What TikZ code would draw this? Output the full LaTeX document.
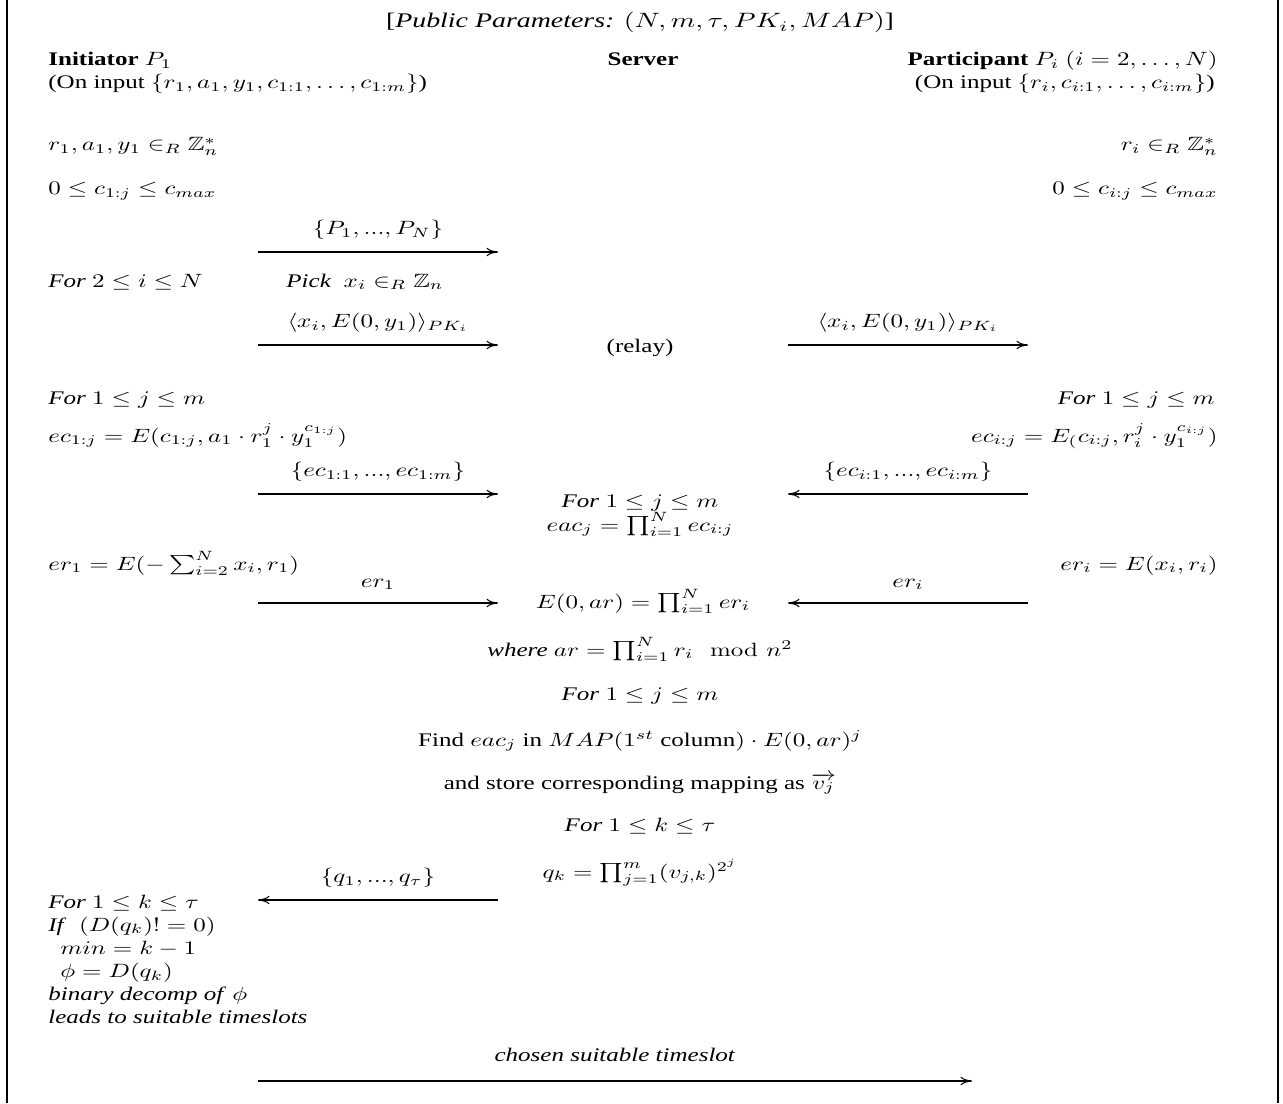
\documentclass[tikz,border=0pt]{standalone}
\usepackage{amsmath,amssymb,graphicx}
\usepackage[no-math]{fontspec}
\setmainfont{Liberation Serif}
\usetikzlibrary{arrows.meta, positioning}

% the printed text is wider than it is tall
\newcommand{\wide}[1]{\scalebox{1.3}[1]{#1}}

\begin{document}
\begin{tikzpicture}[
  x=0.52pt, y=-0.52pt,
  txt/.style ={inner sep=0pt, anchor=base},
  lft/.style ={inner sep=0pt, anchor=base west},
  rgt/.style ={inner sep=0pt, anchor=base east},
  arr/.style ={-{To[length=6pt, width=4.5pt]}, line width=0.55pt},
  lbl/.style ={above=6.5pt, inner sep=0pt},
]
\useasboundingbox (0,0) rectangle (1283,1103);
\draw[line width=0.75pt] (7,0) -- (7,1103);
\draw[line width=0.75pt] (1278,0) -- (1278,1103);

% header
\node[txt] (title)  at (640,28)   {\scalebox{1.45}[1.08]{[\textit{Public Parameters:} $(N,m,\tau,PK_i,MAP)$]}};
\node[lft] (init)   at (48,66)    {\wide{\textbf{Initiator} $P_1$}};
\node[txt] (srv)    at (643,66)   {\wide{\textbf{Server}}};
\node[rgt] (part)   at (1218,66)  {\wide{\textbf{Participant} $P_i$ $(i=2,\ldots,N)$}};
\node[lft] (initin) at (48,89)    {\wide{(On input $\{r_1,a_1,y_1,c_{1:1},\ldots,c_{1:m}\}$)}};
\node[rgt] (partin) at (1215,89)  {\wide{(On input $\{r_i,c_{i:1},\ldots,c_{i:m}\}$)}};
\node[lft] (initr)  at (48,151)   {\wide{$r_1,a_1,y_1\in_R\mathbb{Z}_n^*$}};
\node[rgt] (partr)  at (1218,151) {\wide{$r_i\in_R\mathbb{Z}_n^*$}};
\node[lft] (initc)  at (48,195)   {\wide{$0\le c_{1:j}\le c_{max}$}};
\node[rgt] (partc)  at (1218,195) {\wide{$0\le c_{i:j}\le c_{max}$}};

% group and masks
\coordinate (m1s) at (258,252); \coordinate (m1e) at (498,252);
\draw[arr] (m1s) -- node[lbl] {\wide{$\{P_1,...,P_N\}$}} (m1e);
\node[lft] (initfor) at (48,287)  {\wide{\textit{For} $2\le i\le N$}};
\node[txt] (pick)    at (365,287) {\wide{\textit{Pick} ~$x_i\in_R\mathbb{Z}_n$}};
\coordinate (m2s) at (258,345); \coordinate (m2e) at (498,345);
\draw[arr] (m2s) -- node[lbl] {\wide{$\langle x_i,E(0,y_1)\rangle_{PK_i}$}} (m2e);
\node[txt] (relay) at (640,352) {\wide{(relay)}};
\coordinate (m3s) at (788,345); \coordinate (m3e) at (1028,345);
\draw[arr] (m3s) -- node[lbl] {\wide{$\langle x_i,E(0,y_1)\rangle_{PK_i}$}} (m3e);

% encrypted choices
\node[lft] (initforj) at (48,404)   {\wide{\textit{For} $1\le j\le m$}};
\node[rgt] (partforj) at (1215,404) {\wide{\textit{For} $1\le j\le m$}};
\node[lft] (initec)   at (48,442)   {\wide{$ec_{1:j}=E(c_{1:j},a_1\cdot r_1^j\cdot y_1^{c_{1:j}})$}};
\node[rgt] (partec)   at (1218,442) {\wide{$ec_{i:j}=E_(c_{i:j},r_i^j\cdot y_1^{c_{i:j}})$}};
\coordinate (m4s) at (258,494); \coordinate (m4e) at (498,494);
\draw[arr] (m4s) -- node[lbl] {\wide{$\{ec_{1:1},...,ec_{1:m}\}$}} (m4e);
\coordinate (m5s) at (1028,494); \coordinate (m5e) at (788,494);
\draw[arr] (m5s) -- node[lbl] {\wide{$\{ec_{i:1},...,ec_{i:m}\}$}} (m5e);
\node[txt] (srvfor) at (640,507) {\wide{\textit{For} $1\le j\le m$}};
\node[txt] (srveac) at (640,531) {\wide{$eac_j=\prod_{i=1}^N ec_{i:j}$}};

% encrypted randoms
\node[lft] (initer) at (48,570)   {\wide{$er_1=E(-\sum_{i=2}^N x_i,r_1)$}};
\node[rgt] (parter) at (1218,570) {\wide{$er_i=E(x_i,r_i)$}};
\coordinate (m6s) at (258,603); \coordinate (m6e) at (498,603);
\draw[arr] (m6s) -- node[lbl] {\wide{$er_1$}} (m6e);
\coordinate (m7s) at (1028,603); \coordinate (m7e) at (788,603);
\draw[arr] (m7s) -- node[lbl] {\wide{$er_i$}} (m7e);
\node[txt] (srvar) at (643,608) {\wide{$E(0,ar)=\prod_{i=1}^N er_i$}};

% server side
\node[txt] (where)   at (640,656) {\wide{\textit{where} $ar=\prod_{i=1}^N r_i \mod n^2$}};
\node[txt] (srvforj) at (640,700) {\wide{\textit{For} $1\le j\le m$}};
\node[txt] (find)    at (640,746) {\wide{Find $eac_j$ in $MAP(1^{st}$ column$)\cdot E(0,ar)^j$}};
\node[txt] (store)   at (640,789) {\wide{and store corresponding mapping as $\overrightarrow{v_j}$}};
\node[txt] (srvfork) at (640,831) {\wide{\textit{For} $1\le k\le\tau$}};
\node[txt] (qk)      at (640,878) {\wide{$q_k=\prod_{j=1}^m (v_{j,k})^{2^j}$}};
\coordinate (m8s) at (498,900); \coordinate (m8e) at (258,900);
\draw[arr] (m8s) -- node[lbl] {\wide{$\{q_1,...,q_\tau\}$}} (m8e);

% decoding
\node[lft] (initdec) at (48,908)
  {\wide{\begin{tabular}[t]{@{}l@{}}
   \textit{For} $1\le k\le\tau$\\
   \textit{If} ~$(D(q_k)!=0)$\\
   \hspace*{4.8pt}$min=k-1$\\
   \hspace*{4.8pt}$\phi=D(q_k)$\\
   \textit{binary decomp of} $\phi$\\
   \textit{leads to suitable timeslots}
   \end{tabular}}};
\coordinate (m9s) at (258,1081); \coordinate (m9e) at (972,1081);
\draw[arr] (m9s) -- node[lbl, above=10pt] {\wide{\textit{chosen suitable timeslot}}} (m9e);
\end{tikzpicture}
\end{document}
